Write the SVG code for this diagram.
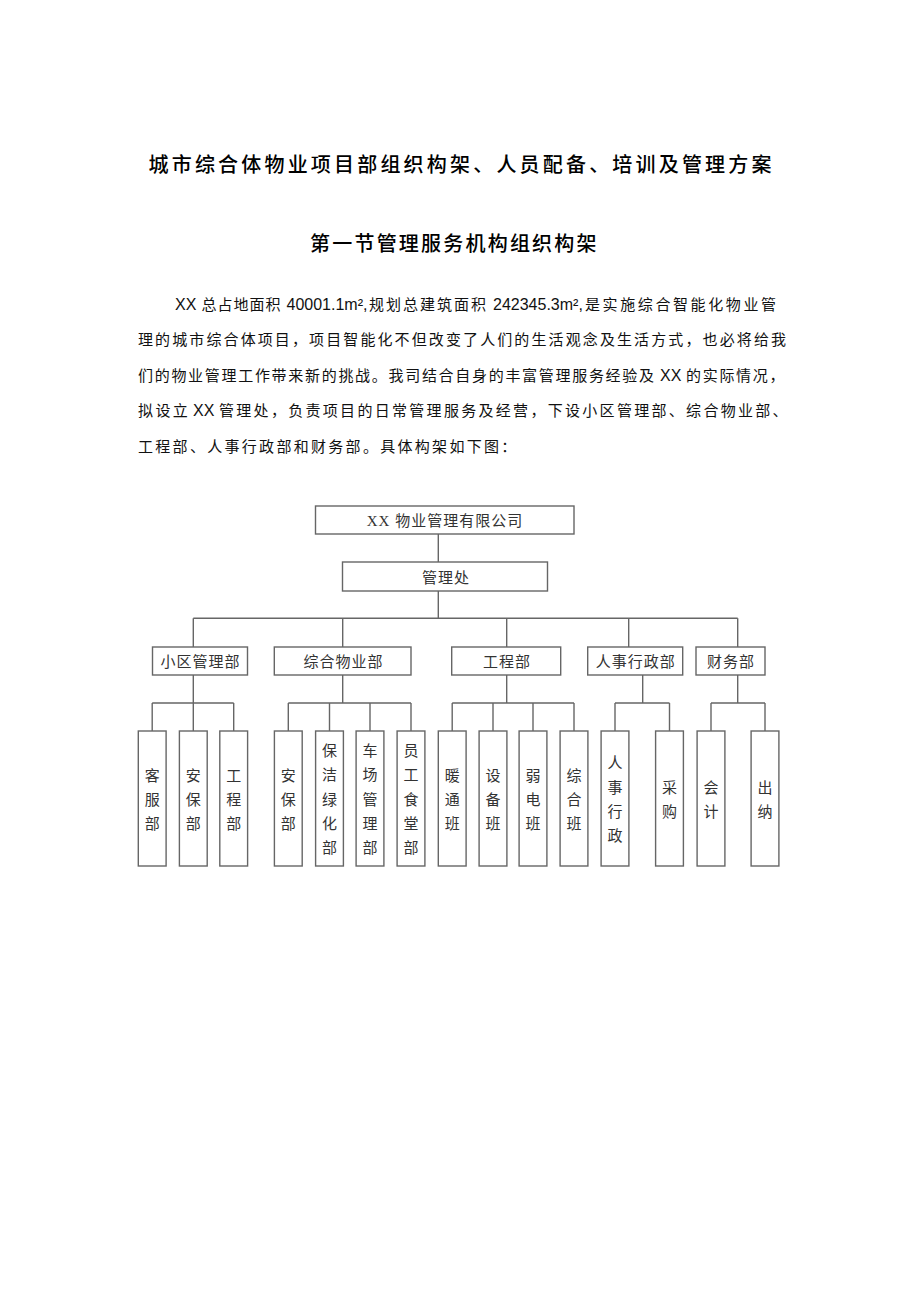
<svg xmlns="http://www.w3.org/2000/svg" width="920" height="1301" viewBox="0 0 920 1301">
<style>
.bg{fill:#fff}
.h1{font-family:"Noto Sans CJK SC","Liberation Sans",sans-serif;font-size:20px;font-weight:500;fill:#000}
.p{font-family:"Liberation Sans","Noto Sans CJK SC",sans-serif;font-size:15px;fill:#111}
.lat{font-size:16px}
.box{fill:#fff;stroke:#666;stroke-width:1.4}
.ln{fill:none;stroke:#666;stroke-width:1.4}
.ct{font-family:"Liberation Serif","Noto Sans CJK SC",serif;font-size:15px;fill:#333;letter-spacing:1px;text-anchor:middle}
.vt{font-family:"Noto Sans CJK SC",serif;font-size:15px;fill:#333;text-anchor:middle}
</style>
<rect class="bg" x="0" y="0" width="920" height="1301"/>
<g id="title">
<text class="h1" x="148.5" y="171.5" textLength="623" lengthAdjust="spacing">城市综合体物业项目部组织构架、人员配备、培训及管理方案</text>
<text class="h1" x="310" y="250.5" textLength="286.5" lengthAdjust="spacing">第一节管理服务机构组织构架</text>
</g>
<g id="paragraph">
<text class="p" y="309.5"><tspan class="lat" x="175">XX</tspan><tspan x="201.5" letter-spacing="1">总占地面积</tspan><tspan class="lat" x="286.5">40001.1m²,</tspan><tspan x="369" letter-spacing="2">规划总建筑面积</tspan><tspan class="lat" x="493">242345.3m²,</tspan><tspan x="585" letter-spacing="2.6">是实施综合智能化物业管</tspan></text>
<text class="p" x="138" y="345" textLength="648" lengthAdjust="spacing">理的城市综合体项目，项目智能化不但改变了人们的生活观念及生活方式，也必将给我</text>
<text class="p" y="380.5"><tspan x="138" letter-spacing="1.7">们的物业管理工作带来新的挑战。我司结合自身的丰富管理服务经验及</tspan><tspan class="lat" x="660">XX</tspan><tspan x="686" letter-spacing="1.7">的实际情况，</tspan></text>
<text class="p" y="416"><tspan x="138" letter-spacing="2.4">拟设立</tspan><tspan class="lat" x="193">XX</tspan><tspan x="219" letter-spacing="2.3">管理处，负责项目的日常管理服务及经营，下设小区管理部、综合物业部、</tspan></text>
<text class="p" x="138" y="451.5" letter-spacing="2.3">工程部、人事行政部和财务部。具体构架如下图：</text>
</g>
<g id="connectors">
<path class="ln" d="M438.3 534V562M438.3 591V618.3M193.3 618.3H737.7M193.3 618.3V647M342.7 618.3V647M506.7 618.3V647M628.7 618.3V647M737.7 618.3V647"/>
<path class="ln" d="M193.3 675V703M342.7 675V703M506.7 675V703M642.7 675V703M737.7 675V703"/>
<path class="ln" d="M152.2 703H233.7M152.2 703V731M193.3 703V731M233.7 703V731"/>
<path class="ln" d="M288.3 703H411M288.3 703V731M329.5 703V731M370 703V731M411 703V731"/>
<path class="ln" d="M452.2 703H574M452.2 703V731M493 703V731M533 703V731M574 703V731"/>
<path class="ln" d="M615 703H669.5M615 703V731M669.5 703V731"/>
<path class="ln" d="M711 703H765M711 703V731M765 703V731"/>
</g>
<g id="company"><rect class="box" x="315.5" y="506" width="258.5" height="28"/><text class="ct" x="445" y="526">XX 物业管理有限公司</text></g>
<g id="office"><rect class="box" x="342.5" y="562" width="205" height="29"/><text class="ct" x="446" y="582.5">管理处</text></g>
<g id="dept1"><rect class="box" x="152.5" y="647" width="95" height="28"/><text class="ct" x="200.5" y="666.5">小区管理部</text></g>
<g id="dept2"><rect class="box" x="274.3" y="647" width="136.7" height="28"/><text class="ct" x="343.5" y="666.5">综合物业部</text></g>
<g id="dept3"><rect class="box" x="451.7" y="647" width="109" height="28"/><text class="ct" x="507" y="666.5">工程部</text></g>
<g id="dept4"><rect class="box" x="587.7" y="647" width="95" height="28"/><text class="ct" x="635.7" y="666.5">人事行政部</text></g>
<g id="dept5"><rect class="box" x="696" y="647" width="69" height="28"/><text class="ct" x="731" y="666.5">财务部</text></g>
<g id="c1"><rect class="box" x="138.3" y="731" width="27.8" height="135"/><text class="vt" y="780.5"><tspan x="152.2">客</tspan><tspan x="152.2" dy="24.2">服</tspan><tspan x="152.2" dy="24.2">部</tspan></text></g>
<g id="c2"><rect class="box" x="179.4" y="731" width="27.8" height="135"/><text class="vt" y="780.5"><tspan x="193.3">安</tspan><tspan x="193.3" dy="24.2">保</tspan><tspan x="193.3" dy="24.2">部</tspan></text></g>
<g id="c3"><rect class="box" x="219.8" y="731" width="27.8" height="135"/><text class="vt" y="780.5"><tspan x="233.7">工</tspan><tspan x="233.7" dy="24.2">程</tspan><tspan x="233.7" dy="24.2">部</tspan></text></g>
<g id="c4"><rect class="box" x="274.4" y="731" width="27.8" height="135"/><text class="vt" y="780.5"><tspan x="288.3">安</tspan><tspan x="288.3" dy="24.2">保</tspan><tspan x="288.3" dy="24.2">部</tspan></text></g>
<g id="c5"><rect class="box" x="315.6" y="731" width="27.8" height="135"/><text class="vt" y="756.1"><tspan x="329.5">保</tspan><tspan x="329.5" dy="24.2">洁</tspan><tspan x="329.5" dy="24.2">绿</tspan><tspan x="329.5" dy="24.2">化</tspan><tspan x="329.5" dy="24.2">部</tspan></text></g>
<g id="c6"><rect class="box" x="356.1" y="731" width="27.8" height="135"/><text class="vt" y="756.1"><tspan x="370">车</tspan><tspan x="370" dy="24.2">场</tspan><tspan x="370" dy="24.2">管</tspan><tspan x="370" dy="24.2">理</tspan><tspan x="370" dy="24.2">部</tspan></text></g>
<g id="c7"><rect class="box" x="397.1" y="731" width="27.8" height="135"/><text class="vt" y="756.1"><tspan x="411">员</tspan><tspan x="411" dy="24.2">工</tspan><tspan x="411" dy="24.2">食</tspan><tspan x="411" dy="24.2">堂</tspan><tspan x="411" dy="24.2">部</tspan></text></g>
<g id="c8"><rect class="box" x="438.3" y="731" width="27.8" height="135"/><text class="vt" y="780.5"><tspan x="452.2">暖</tspan><tspan x="452.2" dy="24.2">通</tspan><tspan x="452.2" dy="24.2">班</tspan></text></g>
<g id="c9"><rect class="box" x="479.1" y="731" width="27.8" height="135"/><text class="vt" y="780.5"><tspan x="493">设</tspan><tspan x="493" dy="24.2">备</tspan><tspan x="493" dy="24.2">班</tspan></text></g>
<g id="c10"><rect class="box" x="519.1" y="731" width="27.8" height="135"/><text class="vt" y="780.5"><tspan x="533">弱</tspan><tspan x="533" dy="24.2">电</tspan><tspan x="533" dy="24.2">班</tspan></text></g>
<g id="c11"><rect class="box" x="560.1" y="731" width="27.8" height="135"/><text class="vt" y="780.5"><tspan x="574">综</tspan><tspan x="574" dy="24.2">合</tspan><tspan x="574" dy="24.2">班</tspan></text></g>
<g id="c12"><rect class="box" x="601.1" y="731" width="27.8" height="135"/><text class="vt" y="768.4"><tspan x="615">人</tspan><tspan x="615" dy="24.2">事</tspan><tspan x="615" dy="24.2">行</tspan><tspan x="615" dy="24.2">政</tspan></text></g>
<g id="c13"><rect class="box" x="655.6" y="731" width="27.8" height="135"/><text class="vt" y="792.6"><tspan x="669.5">采</tspan><tspan x="669.5" dy="24.2">购</tspan></text></g>
<g id="c14"><rect class="box" x="697.1" y="731" width="27.8" height="135"/><text class="vt" y="792.6"><tspan x="711">会</tspan><tspan x="711" dy="24.2">计</tspan></text></g>
<g id="c15"><rect class="box" x="751.1" y="731" width="27.8" height="135"/><text class="vt" y="792.6"><tspan x="765">出</tspan><tspan x="765" dy="24.2">纳</tspan></text></g>
</svg>
